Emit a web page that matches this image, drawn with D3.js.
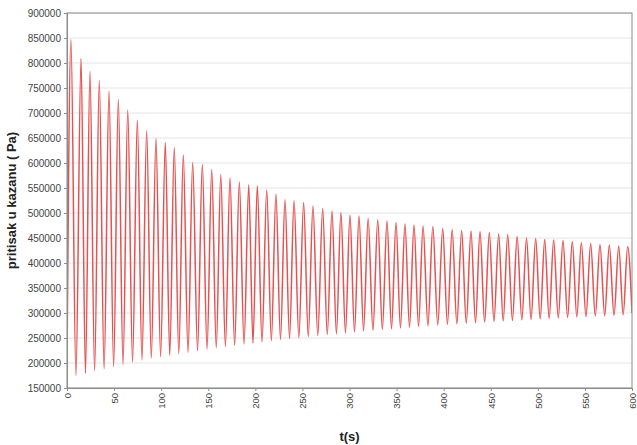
<!DOCTYPE html>
<html>
<head>
<meta charset="utf-8">
<title>pritisak u kazanu</title>
<style>
  body { margin: 0; background: #fff; }
  svg { display: block; font-family: Arial, "Liberation Sans", sans-serif; }
</style>
</head>
<body>
<div id="chart"></div>
<script src="https://d3js.org/d3.v7.min.js"></script>
<script>
// start / end of the trace (s, Pa)
const startPoint = [0, 195000];
const endPoint = [600, 300000];

// pressure maxima
const peakTime = [4.2, 14.9, 24.4, 34.3, 44.6, 54.5, 64.5, 74.7, 84.6, 94.5,
  104.4, 113.9, 123.5, 133.5, 143.7, 153.7, 163.3, 173.1, 183.0, 193.0,
  202.1, 212.1, 221.9, 231.5, 241.1, 251.3, 261.2, 271.5, 281.4, 290.9,
  300.5, 310.1, 319.8, 330.0, 339.8, 349.4, 358.9, 368.5, 378.1, 388.5,
  399.0, 409.0, 419.1, 429.0, 438.6, 448.5, 458.4, 468.0, 478.0, 488.0,
  497.7, 507.3, 516.8, 526.7, 536.6, 546.2, 556.1, 566.0, 575.9, 585.9, 595.4];
const peakPressure = [847000, 809000, 783000, 765000, 744000, 727000, 706000, 686000, 664000, 649000,
  641000, 631000, 616000, 601000, 597000, 587000, 577000, 570000, 562000, 556000,
  554000, 546000, 538000, 527000, 525000, 521000, 514000, 509000, 504000, 501000,
  496000, 494000, 489000, 486000, 484000, 481000, 478000, 476000, 474000, 473000,
  469000, 467000, 465000, 464000, 463000, 461000, 458000, 457000, 453000, 450000,
  449000, 447000, 446000, 445000, 443000, 441000, 439000, 437000, 436000, 434000, 433000];

// pressure minima
const troughTime = [9.5, 19.6, 29.3, 39.4, 49.5, 59.5, 69.6, 79.6, 89.5, 99.4,
  109.1, 118.7, 128.5, 138.6, 148.7, 158.5, 168.2, 178.0, 188.0, 197.5,
  207.1, 217.0, 226.7, 236.3, 246.2, 256.2, 266.3, 276.4, 286.1, 295.7,
  305.3, 314.9, 324.9, 334.9, 344.6, 354.1, 363.7, 373.3, 383.3, 393.7,
  404.0, 414.0, 424.0, 433.8, 443.5, 453.4, 463.2, 473.0, 483.0, 492.8,
  502.5, 512.0, 521.7, 531.6, 541.4, 551.1, 561.0, 571.0, 580.9, 590.6];
const troughPressure = [174500, 179000, 184500, 188000, 192500, 197000, 202000, 206000, 210000, 212500,
  215500, 218500, 221500, 224500, 228000, 230500, 233000, 235500, 238000, 240000,
  242500, 245000, 247000, 249000, 251000, 253000, 255000, 257000, 258500, 260500,
  262000, 264000, 265500, 267000, 268500, 270000, 271500, 273000, 274500, 276000,
  277000, 278500, 279500, 280500, 281500, 283000, 284000, 285000, 286000, 287000,
  288000, 289000, 290000, 291000, 292000, 293000, 294000, 294500, 295500, 296500];

const xTicks = [0, 50, 100, 150, 200, 250, 300, 350, 400, 450, 500, 550, 600];
const yTicks = [150000, 200000, 250000, 300000, 350000, 400000, 450000, 500000,
  550000, 600000, 650000, 700000, 750000, 800000, 850000, 900000];

const width = 637;
const height = 445;
const margin = { top: 13, right: 5, bottom: 57, left: 67 };
const innerW = width - margin.left - margin.right;
const innerH = height - margin.top - margin.bottom;

const points = [startPoint]
  .concat(peakTime.map((t, i) => [t, peakPressure[i]]))
  .concat(troughTime.map((t, i) => [t, troughPressure[i]]))
  .concat([endPoint])
  .sort((a, b) => a[0] - b[0]);

const x = d3.scaleLinear().domain([0, 600]).range([0, innerW]);
const y = d3.scaleLinear().domain([150000, 900000]).range([innerH, 0]);

const svg = d3.select('#chart')
  .append('svg')
  .attr('width', width)
  .attr('height', height);

const g = svg.append('g')
  .attr('transform', `translate(${margin.left},${margin.top})`);

// horizontal grid
g.append('g')
  .selectAll('line')
  .data(yTicks)
  .enter()
  .append('line')
  .attr('x1', 0)
  .attr('x2', innerW)
  .attr('y1', d => y(d))
  .attr('y2', d => y(d))
  .attr('stroke', '#e4e4e4')
  .attr('stroke-width', 1);

g.append('clipPath')
  .attr('id', 'clip')
  .append('rect')
  .attr('width', innerW)
  .attr('height', innerH);

const line = d3.line()
  .x(d => x(d[0]))
  .y(d => y(d[1]))
  .curve(d3.curveMonotoneX);

g.append('path')
  .datum(points)
  .attr('clip-path', 'url(#clip)')
  .attr('fill', 'none')
  .attr('stroke', '#e55252')
  .attr('stroke-width', 1.5)
  .attr('d', line);

// frame
g.append('rect')
  .attr('width', innerW)
  .attr('height', innerH)
  .attr('fill', 'none')
  .attr('stroke', '#8c8c8c')
  .attr('stroke-width', 1);

// y axis
const yAxis = g.append('g')
  .call(d3.axisLeft(y).tickValues(yTicks).tickSize(3).tickPadding(3).tickFormat(d3.format('d')));
yAxis.select('.domain').attr('stroke', '#8c8c8c');
yAxis.selectAll('.tick line').attr('stroke', '#8c8c8c');
yAxis.selectAll('text')
  .attr('fill', '#444')
  .style('font-size', '10px');

// x axis
const xAxis = g.append('g')
  .attr('transform', `translate(0,${innerH})`)
  .call(d3.axisBottom(x).tickValues(xTicks).tickSize(3).tickPadding(3));
xAxis.select('.domain').attr('stroke', '#8c8c8c');
xAxis.selectAll('.tick line').attr('stroke', '#8c8c8c');
xAxis.selectAll('text')
  .attr('fill', '#444')
  .style('font-size', '9.5px')
  .attr('transform', 'rotate(-90)')
  .attr('text-anchor', 'end')
  .attr('x', -5)
  .attr('y', 0)
  .attr('dy', '0.35em');

// axis titles
svg.append('text')
  .attr('x', margin.left + innerW / 2)
  .attr('y', 441)
  .attr('text-anchor', 'middle')
  .style('font-size', '13px')
  .style('font-weight', 'bold')
  .attr('fill', '#222')
  .text('t(s)');

svg.append('text')
  .attr('transform', `translate(16,${margin.top + innerH / 2}) rotate(-90)`)
  .attr('text-anchor', 'middle')
  .style('font-size', '13px')
  .style('font-weight', 'bold')
  .attr('fill', '#222')
  .text('pritisak u kazanu ( Pa)');
</script>
</body>
</html>
